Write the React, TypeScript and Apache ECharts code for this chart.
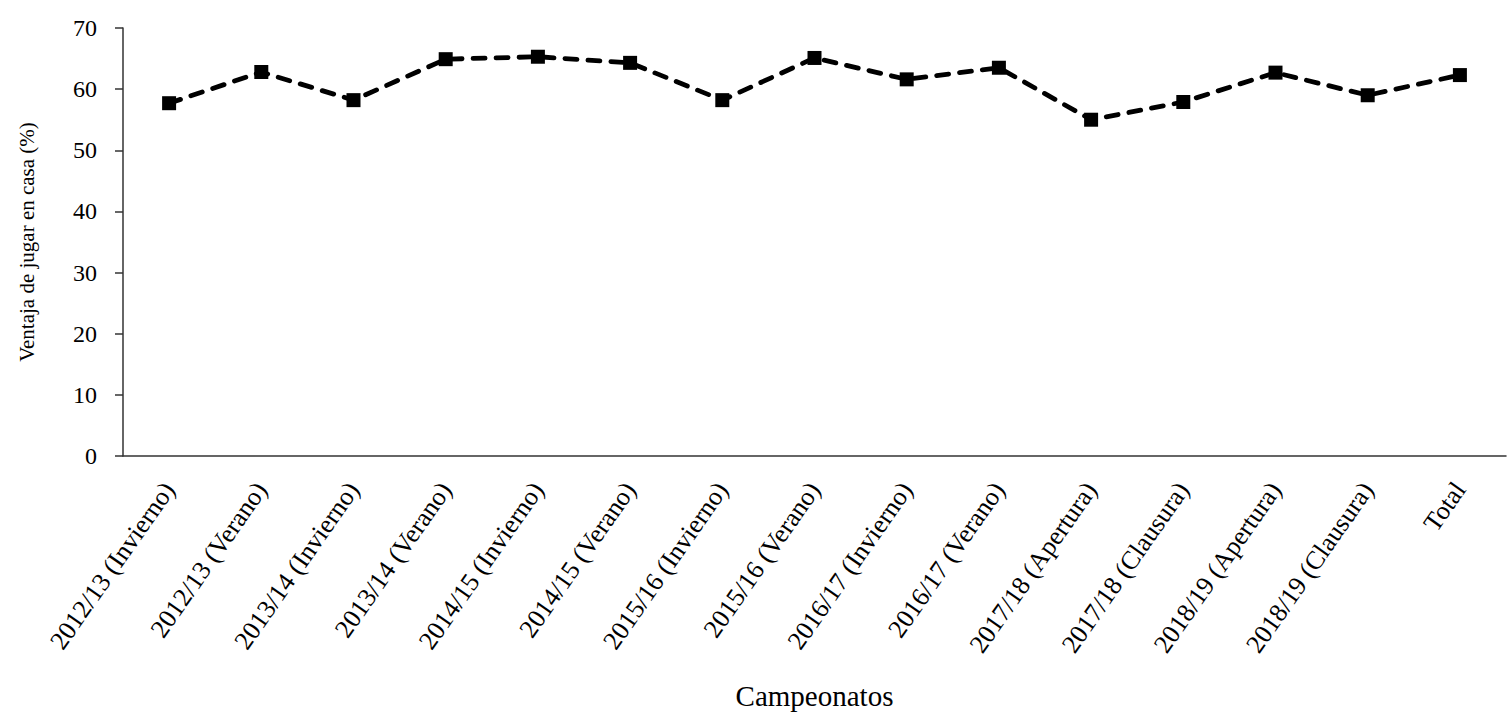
import React, { useEffect, useRef } from "react";
import * as echarts from "echarts";

const categories = [
  "2012/13 (Invierno)",
  "2012/13 (Verano)",
  "2013/14 (Invierno)",
  "2013/14 (Verano)",
  "2014/15 (Invierno)",
  "2014/15 (Verano)",
  "2015/16 (Invierno)",
  "2015/16 (Verano)",
  "2016/17 (Invierno)",
  "2016/17 (Verano)",
  "2017/18 (Apertura)",
  "2017/18 (Clausura)",
  "2018/19 (Apertura)",
  "2018/19 (Clausura)",
  "Total",
];

const values = [57.7, 62.8, 58.2, 64.9, 65.3, 64.3, 58.2, 65.1, 61.6, 63.5, 55.0, 57.9, 62.7, 59.0, 62.3];

const yAxisName = "Ventaja de jugar en casa (%)";
const xAxisName = "Campeonatos";

const FONT = "'Liberation Serif', 'DejaVu Serif', serif";

export default function App() {
  const ref = useRef<HTMLDivElement>(null);
  useEffect(() => {
    if (!ref.current) return;
    const chart = echarts.init(ref.current, null, { renderer: "svg" });
    chart.setOption({
      animation: false,
      backgroundColor: "#ffffff",
      grid: { left: 123, right: 5, top: 28, bottom: 262, containLabel: false },
      xAxis: {
        type: "category",
        data: categories,
        boundaryGap: true,
        name: xAxisName,
        nameLocation: "middle",
        nameGap: 225,
        nameMoveOverlap: false,
        nameTextStyle: { fontFamily: FONT, fontSize: 29, color: "#000" },
        axisLine: { show: true, lineStyle: { color: "#333", width: 1.5 } },
        axisTick: { show: false },
        axisLabel: {
          rotate: 55,
          margin: 29,
          interval: 0,
          fontFamily: FONT,
          fontSize: 26,
          color: "#000",
        },
        splitLine: { show: false },
      },
      yAxis: {
        type: "value",
        min: 0,
        max: 70,
        interval: 10,
        name: yAxisName,
        nameLocation: "middle",
        nameGap: 86,
        nameMoveOverlap: false,
        nameTextStyle: { fontFamily: FONT, fontSize: 21, color: "#000" },
        axisLine: { show: true, lineStyle: { color: "#333", width: 1.5 } },
        axisTick: { show: true, inside: false, length: 8, lineStyle: { color: "#333", width: 1.5 } },
        axisLabel: { margin: 26, fontFamily: FONT, fontSize: 24, color: "#000" },
        splitLine: { show: false },
      },
      series: [
        {
          type: "line",
          data: values,
          symbol: "rect",
          symbolSize: 14,
          itemStyle: { color: "#000" },
          lineStyle: { color: "#000", width: 4.8, type: [12, 11], cap: "round" },
        },
      ],
    });
    return () => chart.dispose();
  }, []);
  return (
    <div
      ref={ref}
      style={{ position: "fixed", left: 0, top: 0, width: 1511, height: 718 }}
    />
  );
}
